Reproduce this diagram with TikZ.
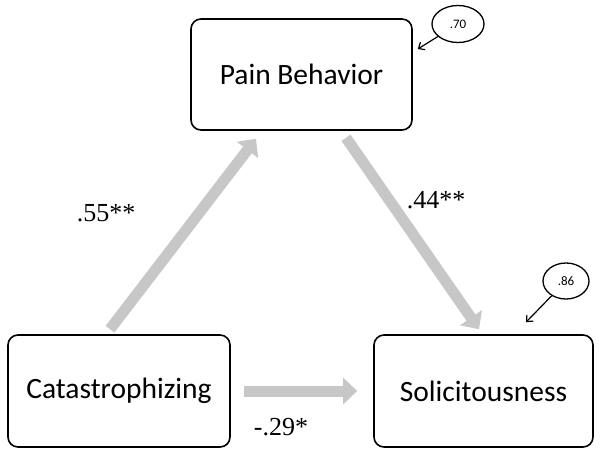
\documentclass[tikz,border=0pt]{standalone}
\usepackage{fontspec}
\setmainfont{Liberation Serif}
\newfontfamily\boxfont{Carlito}
\usetikzlibrary{arrows.meta,calc,shapes.geometric}

\tikzset{
  varbox/.style={draw, line width=1.6pt, rounded corners=10pt, minimum width=221pt,
    minimum height=111pt, inner sep=0pt, font=\boxfont\fontsize{29.5}{34}\selectfont},
  errnode/.style={draw, ellipse, line width=1.3pt, inner sep=0pt,
    font=\boxfont\fontsize{13}{15}\selectfont},
  effect/.style={line width=11pt, draw=black!22, -{Triangle[length=14pt,width=26pt]}},
  errpath/.style={line width=1.2pt, -{Straight Barb[length=5pt,width=9pt]}},
  coef/.style={font=\fontsize{26}{30}\selectfont}
}

\begin{document}
\begin{tikzpicture}[x=1pt, y=-1pt]
        \useasboundingbox (0,0) rectangle (602,455);
        % variables
        \node[varbox] (pain) at (301.5,74.5) {Pain Behavior};
        \node[varbox, minimum width=222pt, minimum height=112pt] (cat) at (119,391) {Catastrophizing};
        \node[varbox, minimum width=219pt, minimum height=112pt] (sol) at (483.5,391) {Solicitousness};
        % residuals
        \node[errnode, minimum width=52pt, minimum height=37pt] (e70) at (458,24) {.70};
        \node[errnode, minimum width=46pt, minimum height=36pt] (e86) at (566,281) {.86};
        \coordinate (t70) at ($(pain.east)+(5,-25.5)$);
        \coordinate (t86) at ($(sol.north)+(42.5,-12)$);
        \draw[errpath] (e70) -- (t70);
        \draw[errpath] (e86) -- (t86);
        % paths
        \draw[effect] ($(cat.north)+(-9,-5)$) -- ($(pain.south)+(-45.5,8)$);
        \draw[effect] ($(pain.south)+(44.5,7)$) -- ($(sol.north)+(-4.5,-5)$);
        \draw[effect] ($(cat.east)+(13,0)$) -- ($(sol.west)+(-16,0)$);
        \node[coef] (l55) at (106,213) {.55**};
        \node[coef] (l44) at (436,200) {.44**};
        \node[coef] (l29) at (281,427) {-.29*};
      \end{tikzpicture}
\end{document}
